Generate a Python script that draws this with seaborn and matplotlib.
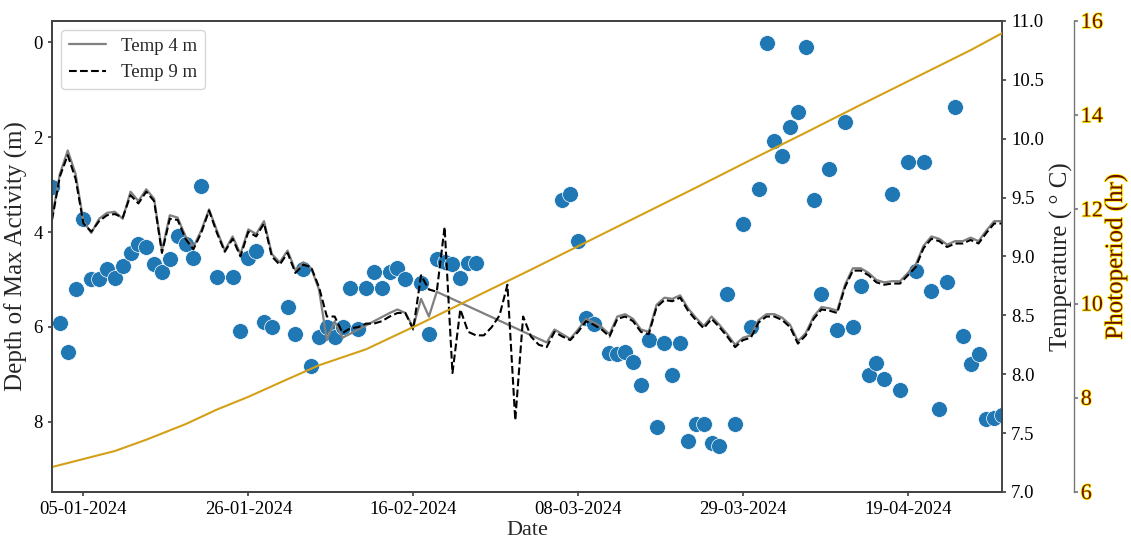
import numpy as np
import pandas as pd
import matplotlib
matplotlib.use("Agg")
import matplotlib.pyplot as plt
import matplotlib.dates as mdates
import matplotlib.patheffects as pe
import seaborn as sns

# ---------------- data ----------------
START = "2024-01-01"

depth_day = [0, 1, 2, 3, 4, 5, 6, 7, 8, 9, 10, 11, 12, 13, 14, 15, 16, 17, 18, 19,
             21, 23, 24, 25, 26, 27, 28, 30, 31, 32, 33, 34, 35, 36, 37, 38, 39, 40,
             41, 42, 43, 44, 45, 47, 48, 49, 50, 51, 52, 53, 54,
             65, 66, 67, 68, 69, 71, 72, 73, 74, 75, 76, 77, 78, 79, 80,
             81, 82, 83, 84, 85, 86, 87, 88, 89, 90, 91, 92, 93, 94, 95, 96, 97, 98,
             99, 100, 101, 102, 103, 104, 105, 106, 107, 108, 109, 110, 111, 112,
             113, 114, 115, 116, 117, 118, 119, 120, 121]
depth_m = [3.05, 5.92, 6.53, 5.21, 3.73, 5.00, 4.98, 4.77, 4.96, 4.72, 4.45, 4.26, 4.31,
           4.68, 4.84, 4.57, 4.08, 4.26, 4.54, 3.02,
           4.95, 4.95, 6.08, 4.54, 4.40, 5.89, 6.00, 5.58, 6.15, 4.78, 6.83, 6.21, 6.00,
           6.22, 6.00, 5.17, 6.04, 5.17,
           4.85, 5.17, 4.84, 4.75, 5.00, 5.07, 6.14, 4.56, 4.64, 4.68, 4.96, 4.65, 4.66,
           3.33, 3.20, 4.19, 5.82, 5.93, 6.55, 6.58, 6.53, 6.74, 7.22, 6.27, 8.11, 6.34,
           7.02, 6.34,
           8.41, 8.04, 8.04, 8.45, 8.50, 5.30, 8.05, 3.83, 6.00, 3.10, 0.01, 2.08, 2.40,
           1.79, 1.48, 0.10, 3.33, 5.30,
           2.67, 6.07, 1.68, 6.01, 5.13, 7.02, 6.76, 7.10, 3.19, 7.32, 2.52, 4.82, 2.52,
           5.25, 7.74, 5.06, 1.37, 6.19, 6.79, 6.58, 7.95, 7.93, 7.86]

temp_day = list(range(0, 122))
nan = np.nan
temp_4m = [9.33, 9.70, 9.90, 9.70, 9.30, 9.20, 9.32, 9.37, 9.38, 9.32,
           9.55, 9.47, 9.57, 9.49, 9.05, 9.35, 9.33, 9.17, 9.08, 9.22,
           9.40, 9.22, 9.05, 9.17, 9.02, 9.23, 9.19, 9.30, 9.02, 8.95,
           9.05, 8.88, 8.95, 8.90, 8.72, 8.29, 8.45, 8.31, nan, nan,
           nan, nan, nan, 8.52, 8.55, 8.52, 8.40, 8.64, 8.49, 8.70,
           nan, nan, nan, nan, nan, nan, nan, nan, nan, nan,
           nan, nan, nan, 8.27, 8.38, 8.34, 8.30, 8.38, 8.47, 8.44,
           8.40, 8.34, 8.49, 8.51, 8.47, 8.38, 8.36, 8.59, 8.65, 8.64,
           8.67, 8.56, 8.48, 8.41, 8.49, 8.42, 8.34, 8.25, 8.31, 8.33,
           8.46, 8.51, 8.51, 8.48, 8.42, 8.28, 8.35, 8.49, 8.57, 8.56,
           8.54, 8.76, 8.90, 8.90, 8.86, 8.80, 8.78, 8.79, 8.79, 8.86,
           8.93, 9.09, 9.17, 9.15, 9.10, 9.13, 9.13, 9.16, 9.13, 9.22,
           9.30, 9.30]
temp_9m = [9.31, 9.68, 9.86, 9.66, 9.28, 9.21, 9.30, 9.35, 9.36, 9.33,
           9.52, 9.45, 9.55, 9.47, 9.03, 9.32, 9.31, 9.15, 9.06, 9.20,
           9.39, 9.20, 9.04, 9.15, 9.00, 9.21, 9.17, 9.28, 9.00, 8.93,
           9.03, 8.86, 8.93, 8.91, 8.74, 8.49, 8.49, 8.35, 8.39, 8.40,
           8.43, 8.43, 8.45, 8.49, 8.52, 8.52, 8.38, 8.84, 8.72, 8.70,
           9.25, 8.01, 8.55, 8.36, 8.33, 8.33, 8.40, 8.50, 8.76, 7.61,
           8.49, 8.32, 8.25, 8.23, 8.36, 8.32, 8.29, 8.36, 8.45, 8.42,
           8.38, 8.32, 8.47, 8.49, 8.45, 8.36, 8.34, 8.57, 8.63, 8.62,
           8.65, 8.54, 8.46, 8.39, 8.47, 8.40, 8.32, 8.23, 8.29, 8.31,
           8.44, 8.49, 8.49, 8.46, 8.40, 8.26, 8.33, 8.47, 8.55, 8.54,
           8.52, 8.74, 8.88, 8.88, 8.84, 8.78, 8.76, 8.77, 8.77, 8.84,
           8.91, 9.07, 9.15, 9.13, 9.08, 9.11, 9.11, 9.14, 9.11, 9.20,
           9.28, 9.28]

photo_day = [0, 4, 8, 12, 17, 21, 25, 29, 34, 40, 47, 54, 61, 68, 75, 82, 89, 96,
             103, 110, 117, 121]
photo_hr = [6.53, 6.70, 6.87, 7.11, 7.44, 7.75, 8.02, 8.32, 8.69, 9.03, 9.58, 10.15,
            10.72, 11.30, 11.88, 12.46, 13.05, 13.63, 14.22, 14.80, 15.38, 15.74]

xtick_labels = ["05-01-2024", "26-01-2024", "16-02-2024", "08-03-2024",
                "29-03-2024", "19-04-2024"]
temp_ticks = [7.0, 7.5, 8.0, 8.5, 9.0, 9.5, 10.0, 10.5, 11.0]
photo_ticks = [6, 8, 10, 12, 14, 16]

# ---------------- frames ----------------
base = pd.Timestamp(START)
df_depth = pd.DataFrame({"date": base + pd.to_timedelta(depth_day, unit="D"),
                         "depth": depth_m})
df_t4 = pd.DataFrame({"date": base + pd.to_timedelta(temp_day, unit="D"),
                      "temp": temp_4m}).dropna()
df_t9 = pd.DataFrame({"date": base + pd.to_timedelta(temp_day, unit="D"),
                      "temp": temp_9m})
df_ph = pd.DataFrame({"date": base + pd.to_timedelta(photo_day, unit="D"),
                      "hr": photo_hr})

# ---------------- style ----------------
sns.set_theme(style="ticks")
plt.rcParams["font.family"] = ["Liberation Serif", "DejaVu Serif"]
plt.rcParams["axes.edgecolor"] = "#444444"
plt.rcParams["axes.linewidth"] = 1.2
plt.rcParams["xtick.major.size"] = 3
plt.rcParams["ytick.major.size"] = 3
plt.rcParams["xtick.color"] = "#444444"
plt.rcParams["ytick.color"] = "#444444"
plt.rcParams["xtick.labelcolor"] = "black"
plt.rcParams["ytick.labelcolor"] = "black"

fig = plt.figure(figsize=(11.31, 5.39), dpi=100)
ax1 = fig.add_axes([0.046, 0.0872, 0.840, 0.874])
ax2 = ax1.twinx()
ax3 = ax1.twinx()

TICK_FS = 13.5
LABEL_FS = 18

# depth scatter
sns.scatterplot(data=df_depth, x="date", y="depth", ax=ax1, s=130,
                color="#1f77b4", edgecolor="white", linewidth=0.5, legend=False)
ax1.set_ylim(9.48, -0.45)
ax1.set_xlim(df_t9["date"].min(), df_t9["date"].max())
ax1.set_ylabel("Depth of Max Activity (m)", fontsize=LABEL_FS)
ax1.set_xlabel("Date", fontsize=16, labelpad=2)
xt = pd.to_datetime(xtick_labels, format="%d-%m-%Y")
ax1.set_xticks(xt)
ax1.xaxis.set_major_formatter(mdates.DateFormatter("%d-%m-%Y"))
ax1.tick_params(axis="both", labelsize=TICK_FS)

# temperatures
sns.lineplot(data=df_t4, x="date", y="temp", ax=ax2, color="#808080",
             linewidth=1.6, label="Temp 4 m")
sns.lineplot(data=df_t9, x="date", y="temp", ax=ax2, color="black",
             linewidth=1.5, linestyle="--", label="Temp 9 m")
ax2.set_ylim(7.0, 11.0)
ax2.set_yticks(temp_ticks)
ax2.set_yticklabels([f"{v:.1f}" for v in temp_ticks])
ax2.tick_params(axis="y", labelsize=TICK_FS)
ax2.set_ylabel("Temperature ( ° C)", fontsize=LABEL_FS)
ax2.set_xlabel("")
leg = ax2.legend(loc="upper left", fontsize=TICK_FS, frameon=True, fancybox=True)
leg.get_frame().set_edgecolor("#cccccc")
leg.get_frame().set_linewidth(1.0)

# photoperiod
glow = [pe.withStroke(linewidth=1.2, foreground="#ffee00")]
sns.lineplot(data=df_ph, x="date", y="hr", ax=ax3, color="#d4a017", linewidth=1.5)
ax3.set_ylim(6, 16)
ax3.set_yticks(photo_ticks)
ax3.spines["right"].set_position(("axes", 1.0755))
ax3.spines["right"].set_color("#777777")
ax3.spines["right"].set_linewidth(1.0)
ax3.tick_params(axis="y", labelsize=16, labelcolor="#6e1200", color="#777777", pad=2)
for t in ax3.get_yticklabels():
    t.set_path_effects(glow)
ax3.set_ylabel("Photoperiod (hr)", fontsize=LABEL_FS, color="#6e1200",
               path_effects=glow, labelpad=1)
ax3.set_xlabel("")
ax3.set_xlim(df_t9["date"].min(), df_t9["date"].max())

fig.savefig("out.png", dpi=100)
